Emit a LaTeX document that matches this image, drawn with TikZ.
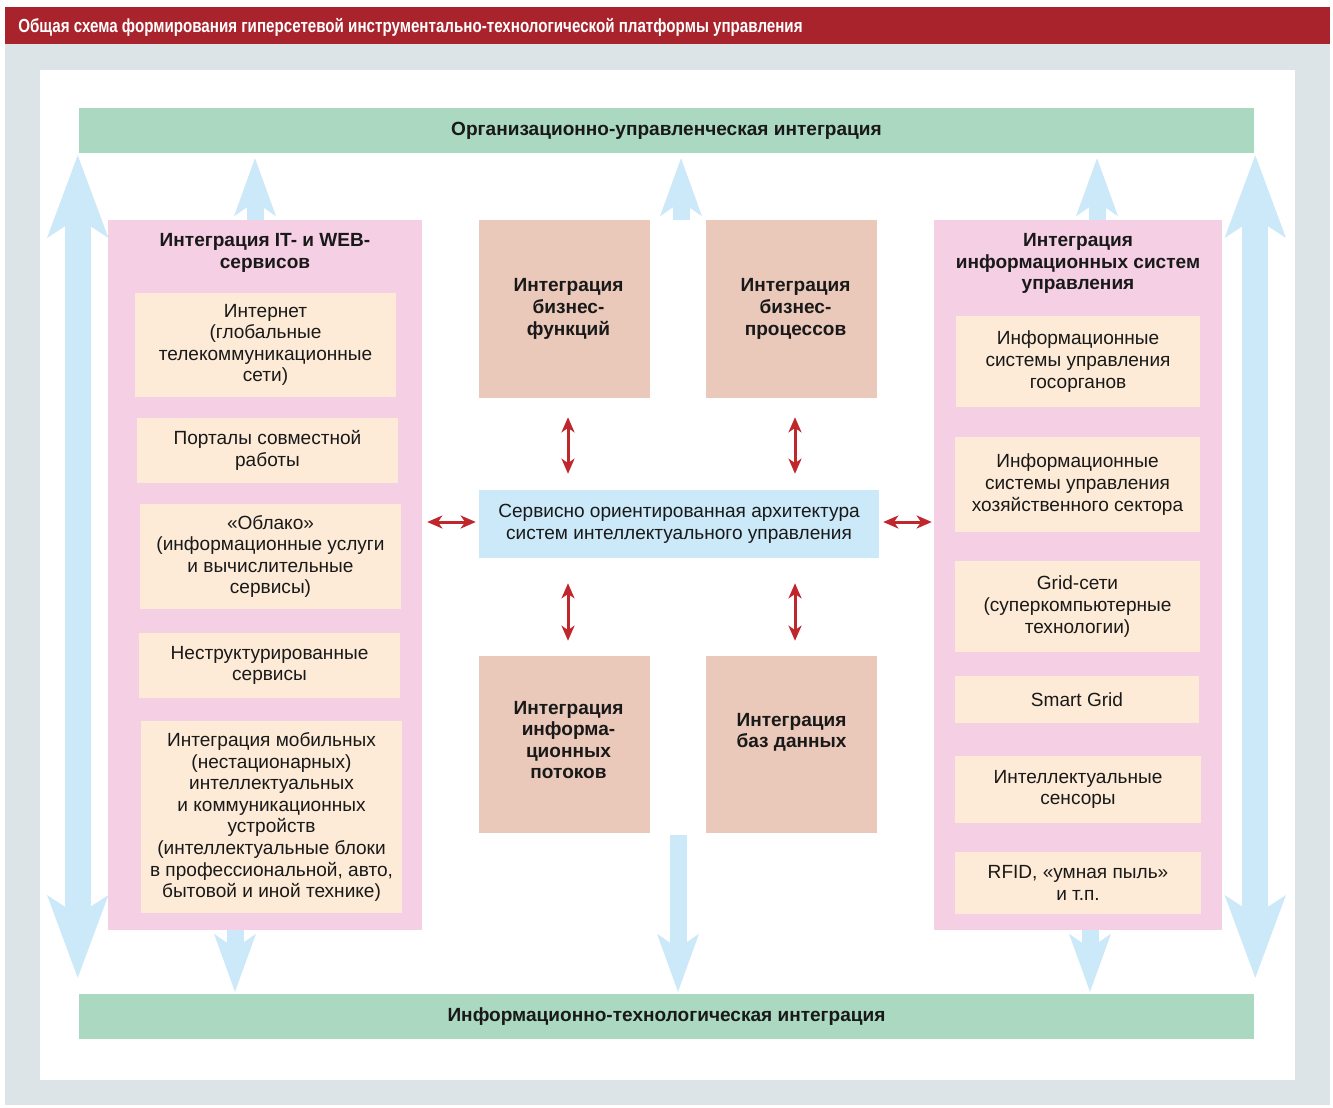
\documentclass[tikz,border=0pt]{standalone}
\usepackage{fontspec}
\setmainfont{Liberation Sans}
\newfontfamily\headfont[FakeStretch=0.8]{Liberation Sans}
\usetikzlibrary{arrows.meta,positioning,calc}
\usepackage{xcolor}
\definecolor{headred}{RGB}{168,35,43}
\definecolor{framegray}{RGB}{220,228,232}
\definecolor{bargreen}{RGB}{170,216,192}
\definecolor{panelpink}{RGB}{245,207,227}
\definecolor{itemcream}{RGB}{253,235,215}
\definecolor{blocktan}{RGB}{235,201,186}
\definecolor{soablue}{RGB}{203,233,248}
\definecolor{linkred}{RGB}{192,39,45}

\begin{document}
\begin{tikzpicture}[x=0.75pt, y=-0.75pt,
    font=\fontsize{14.3}{16.2}\selectfont, text=black!90,
    wh/.style 2 args={minimum width=#1*0.75pt, minimum height=#2*0.75pt},
    bar/.style={rectangle, fill=bargreen, inner sep=0pt, font=\fontsize{14.3}{16.2}\selectfont\bfseries},
    panel/.style={rectangle, fill=panelpink, inner sep=0pt},
    paneltitle/.style={align=center, font=\fontsize{14.3}{16.2}\selectfont\bfseries},
    item/.style={rectangle, fill=itemcream, align=center, inner sep=0pt},
    block/.style={rectangle, fill=blocktan, inner sep=0pt},
    blocktext/.style={align=center, font=\fontsize{14.3}{16.2}\selectfont\bfseries},
    soabox/.style={rectangle, fill=soablue, align=center, inner sep=0pt},
    bigtip/.tip={Stealth[length=62pt, width=46pt, inset=15pt, line width=0pt]},
    smalltip/.tip={Stealth[length=43.5pt, width=31.5pt, inset=11pt, line width=0pt]},
    redtip/.tip={Stealth[length=11.5pt, width=10pt, inset=3.5pt, line width=0pt]},
    bigarrow/.style={draw=soablue, line width=19.5pt, bigtip-bigtip},
    smallarrow/.style={draw=soablue, line width=12.75pt, -smalltip},
    linkarrow/.style={draw=linkred, line width=2.25pt, redtip-redtip}]

    \useasboundingbox (0,0) rectangle (1333,1107);
    % frame
    \fill[white] (0,0) rectangle (1333,1107);
    \fill[framegray] (5,44) rectangle (1330,1105);
    \fill[white] (40,70) rectangle (1295,1080);
    \node[fill=headred, anchor=north west, inner sep=0pt, wh={1325}{37}] (head) at (5,7) {};
    \node[anchor=west, inner sep=0pt, text=white, font=\headfont\bfseries\fontsize{14.2}{16}\selectfont] (headtext) at (18,27)
        {Общая схема формирования гиперсетевой инструментально-технологической платформы управления};

    % integration bars
    \node[bar, wh={1175}{45}] (orgbar) at (666.5,130.5) {Организационно-управленческая интеграция};
    \node[bar, wh={1175}{45}] (infbar) at (666.5,1016.5) {Информационно-технологическая интеграция};

    % left panel
    \node[panel, wh={314}{710}] (itweb) at (265,575) {};
    \node[paneltitle] (itwebtitle) at (265,253) {Интеграция IT- и WEB-\\сервисов};
    \node[item, wh={261}{104}] (inet) at (265.5,345) {Интернет\\(глобальные\\телекоммуникационные\\сети)};
    \node[item, wh={261}{65}] (portal) at (267.5,450.5) {Порталы совместной\\работы};
    \node[item, wh={261}{105}] (cloud) at (270.5,556.5) {«Облако»\\(информационные услуги\\и вычислительные\\сервисы)};
    \node[item, wh={261}{65}] (unstruct) at (269.5,665.5) {Неструктурированные\\сервисы};
    \node[item, wh={261}{192}] (mobile) at (271.5,817) {Интеграция мобильных\\(нестационарных)\\интеллектуальных\\и коммуникационных\\устройств\\(интеллектуальные блоки\\в профессиональной, авто,\\бытовой и иной технике)};

    % right panel
    \node[panel, wh={288}{710}] (infsys) at (1078,575) {};
    \node[paneltitle] (infsystitle) at (1078,263.5) {Интеграция\\информационных систем\\управления};
    \node[item, wh={244}{91}] (govis) at (1078,361.5) {Информационные\\системы управления\\госорганов};
    \node[item, wh={245}{95}] (bizis) at (1077.5,484.5) {Информационные\\системы управления\\хозяйственного сектора};
    \node[item, wh={245}{91}] (grid) at (1077.5,606.5) {Grid-сети\\(суперкомпьютерные\\технологии)};
    \node[item, wh={244}{47}] (smart) at (1077,699.5) {Smart Grid};
    \node[item, wh={246}{67}] (sensor) at (1078,789.5) {Интеллектуальные\\сенсоры};
    \node[item, wh={246}{62}] (rfid) at (1078,883) {RFID, «умная пыль»\\и т.п.};

    % centre blocks
    \node[block, wh={171}{178}] (bizfunc) at (564.5,309) {};
    \node[blocktext] (bizfunctext) at ($(bizfunc)+(4,0)$) {Интеграция\\бизнес-\\функций};
    \node[block, wh={171}{178}] (bizproc) at (791.5,309) {};
    \node[blocktext] (bizproctext) at ($(bizproc)+(4,0)$) {Интеграция\\бизнес-\\процессов};
    \node[block, wh={171}{177}] (flows) at (564.5,744.5) {};
    \node[blocktext] (flowstext) at ($(flows)+(4,-4.5)$) {Интеграция\\информа-\\ционных\\потоков};
    \node[block, wh={171}{177}] (dbase) at (791.5,744.5) {};
    \node[blocktext] (dbasetext) at ($(dbase)+(0,-12)$) {Интеграция\\баз данных};
    \node[soabox, wh={400}{68}] (soa) at (679,524) {Сервисно ориентированная архитектура\\систем интеллектуального управления};

    % red links
    \draw[linkarrow] ($(bizfunc.south)+(3.5,19)$) -- ($(bizfunc.south |- soa.north)+(3.5,-16)$);
    \draw[linkarrow] ($(bizproc.south)+(3.5,19)$) -- ($(bizproc.south |- soa.north)+(3.5,-16)$);
    \draw[linkarrow] ($(flows.north)+(3.5,-15)$) -- ($(flows.north |- soa.south)+(3.5,25)$);
    \draw[linkarrow] ($(dbase.north)+(3.5,-15)$) -- ($(dbase.north |- soa.south)+(3.5,25)$);
    \draw[linkarrow] ($(itweb.east |- soa)+(5,-2)$) -- ($(soa.west)+(-3,-2)$);
    \draw[linkarrow] ($(soa.east)+(4,-2)$) -- ($(infsys.west |- soa)+(-2,-2)$);

    % blue arrows
    \draw[bigarrow] ($(orgbar.south west)+(-1,2)$) -- ($(infbar.north west)+(-1,-16)$);
    \draw[bigarrow] ($(orgbar.south east)+(1,2)$) -- ($(infbar.north east)+(1,-16)$);
    \draw[smallarrow] ($(itweb.north)+(-10,0)$) -- ($(itweb.north |- orgbar.south)+(-10,5)$);
    \draw[smallarrow] ($(itweb.south)+(-30,0)$) -- ($(itweb.south |- infbar.north)+(-30,-2)$);
    \coordinate (gaptop) at ($(bizfunc.north east)!0.5!(bizproc.north west)$);
    \coordinate (gapbot) at ($(flows.south east)!0.5!(dbase.south west)$);
    \draw[smallarrow] ($(gaptop)+(3,0)$) -- ($(gaptop |- orgbar.south)+(3,5)$);
    \draw[smallarrow] ($(gapbot)+(0,2)$) -- ($(gapbot |- infbar.north)+(0,-2)$);
    \draw[smallarrow] ($(infsys.north)+(19,0)$) -- ($(infsys.north |- orgbar.south)+(19,5)$);
    \draw[smallarrow] ($(infsys.south)+(12,0)$) -- ($(infsys.south |- infbar.north)+(12,-2)$);
\end{tikzpicture}
\end{document}
